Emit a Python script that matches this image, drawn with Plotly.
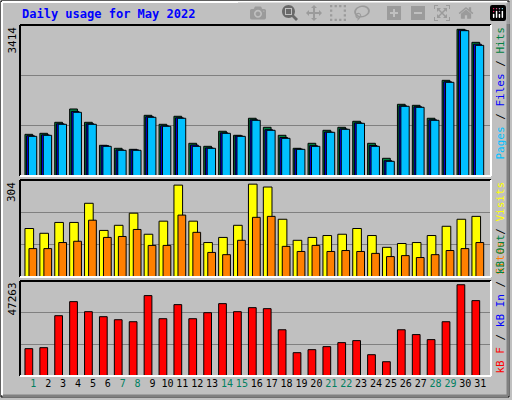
import plotly.graph_objects as go

W, H = 512, 400

days = list(range(1, 32))
hits = [942, 965, 1214, 1515, 1214, 694, 626, 603, 1372, 1169, 1350, 739, 671, 1011, 920, 1305,
        1101, 920, 626, 739, 1033, 1101, 1237, 739, 400, 1621, 1598, 1305, 2163, 3316, 3022]
files = [910, 930, 1180, 1460, 1180, 685, 590, 590, 1340, 1135, 1315, 700, 635, 975, 905, 1270,
         1045, 870, 610, 685, 995, 1065, 1200, 690, 345, 1585, 1565, 1270, 2130, 3300, 2980]
pages = [897, 920, 1169, 1440, 1169, 671, 581, 581, 1327, 1124, 1305, 671, 626, 965, 897, 1259,
         1033, 852, 603, 671, 988, 1056, 1191, 671, 332, 1576, 1553, 1259, 2118, 3286, 2954]
visits = [152, 137, 171, 171, 231, 146, 162, 200, 134, 175, 288, 175, 108, 124, 162, 291,
          282, 181, 115, 124, 130, 134, 152, 130, 93, 105, 108, 130, 159, 181, 190]
sites = [89, 89, 108, 112, 178, 124, 127, 149, 99, 99, 194, 140, 77, 70, 115, 187,
         190, 96, 80, 99, 80, 83, 80, 74, 64, 67, 61, 70, 83, 89, 108]
kbytes = [13600, 14100, 30000, 37000, 32000, 29500, 28000, 27000, 40000, 28500, 35500, 28500,
          31500, 36000, 32000, 34000, 33500, 23000, 11600, 13100, 14600, 16600, 17600, 10600,
          7100, 23000, 20600, 18100, 27000, 45400, 37500]
max_hits, max_visits, max_kb = 3414, 304, 47263
weekend = {1, 7, 8, 14, 15, 21, 22, 28, 29}

MONO = "DejaVu Sans Mono"
px = lambda x: x / W
py = lambda y: 1 - y / H

# panel pixel bounds (top, bottom)
PX0, PX1 = 20, 491
panels = [(25, 176), (180, 277), (281, 376)]

fig = go.Figure()

def bar(x, y, color, offset, width, axis):
    fig.add_trace(go.Bar(x=x, y=y, marker=dict(color=color, line=dict(color="black", width=1)),
                         offset=offset, width=width, xaxis="x", yaxis=axis, showlegend=False))

bar(days, hits, "#008040", -0.56, 0.52, "y")
bar(days, files, "#0000FF", -0.45, 0.52, "y")
bar(days, pages, "#00C0FF", -0.33, 0.56, "y")
bar(days, visits, "#FFFF00", -0.56, 0.58, "y2")
bar(days, sites, "#FF8000", -0.29, 0.52, "y2")
bar(days, kbytes, "#FF0000", -0.56, 0.52, "y3")

ticktext = [f"<span style='color:{'#008060' if d in weekend else 'black'}'>{d}</span>" for d in days]
fig.update_layout(
    width=W, height=H, margin=dict(l=0, r=0, t=0, b=0, autoexpand=False),
    paper_bgcolor="#C0C0C0", plot_bgcolor="#C0C0C0", barmode="overlay",
    font=dict(family=MONO, size=11, color="black"),
    xaxis=dict(domain=[px(PX0), px(PX1)], range=[0.107, 31.72], tickvals=days, ticktext=ticktext,
               tickangle=0, automargin=False, showgrid=False, zeroline=False, ticks="",
               ticklen=0, anchor="y3", tickfont=dict(size=10)),
)
for i, (axis, mx) in enumerate([("yaxis", max_hits), ("yaxis2", max_visits), ("yaxis3", max_kb)]):
    t, b = panels[i]
    fig.layout[axis] = dict(domain=[py(b), py(t)], range=[0, mx], tickvals=[mx / 3, 2 * mx / 3],
                            showticklabels=False, gridcolor="#808080", gridwidth=1,
                            zeroline=False, ticks="", anchor="x", automargin=False)
    # bevel frame: top/left black, bottom/right white
    fig.add_shape(type="line", xref="paper", yref="paper", x0=px(PX0), x1=px(PX1), y0=py(t), y1=py(t),
                  line=dict(color="black", width=2))
    fig.add_shape(type="line", xref="paper", yref="paper", x0=px(PX0), x1=px(PX0), y0=py(t), y1=py(b),
                  line=dict(color="black", width=2))
    fig.add_shape(type="line", xref="paper", yref="paper", x0=px(PX0), x1=px(PX1), y0=py(b), y1=py(b),
                  line=dict(color="white", width=2))
    fig.add_shape(type="line", xref="paper", yref="paper", x0=px(PX1), x1=px(PX1), y0=py(t), y1=py(b),
                  line=dict(color="white", width=2))
    fig.add_annotation(x=px(12), y=py(t), xref="paper", yref="paper", text=f"{mx}", textangle=-90,
                       showarrow=False, xanchor="center", yanchor="top", font=dict(size=11))

# outer border
fig.add_shape(type="rect", xref="paper", yref="paper", x0=px(1), x1=px(509), y0=py(1), y1=py(397),
              line=dict(color="black", width=1))
fig.add_shape(type="line", xref="paper", yref="paper", x0=px(508), x1=px(508), y0=py(3), y1=py(396),
              line=dict(color="#808080", width=3))
fig.add_shape(type="line", xref="paper", yref="paper", x0=px(3), x1=px(508), y0=py(396), y1=py(396),
              line=dict(color="#808080", width=3))
fig.add_shape(type="line", xref="paper", yref="paper", x0=px(2), x1=px(507), y0=py(2), y1=py(2),
              line=dict(color="white", width=2))
fig.add_shape(type="line", xref="paper", yref="paper", x0=px(2), x1=px(2), y0=py(2), y1=py(395),
              line=dict(color="white", width=2))

fig.add_annotation(x=px(20), y=py(14), xref="paper", yref="paper", text="<b>Daily usage for May 2022</b>",
                   showarrow=False, xanchor="left", yanchor="middle", font=dict(size=12, color="#0000FF"))

label_hits = ("<span style='color:#00C0FF'>Pages</span> / <span style='color:#0000FF'>Files</span>"
              " / <span style='color:#008040'>Hits</span>")
label_visits = "<span style='color:#FF8000'>Sites</span> / <span style='color:#FFFF00'>Visits</span>"
label_kb = ("<span style='color:#FF0000'>kB F</span> / <span style='color:#0000FF'>kB In</span>"
            " / <span style='color:#008040'>kB Out</span>")
fig.add_annotation(x=px(500), y=py(25), xref="paper", yref="paper", text=label_hits, textangle=-90,
                   showarrow=False, xanchor="center", yanchor="top", font=dict(size=11))
fig.add_annotation(x=px(500), y=py(180), xref="paper", yref="paper", text=label_visits,
                   textangle=-90, showarrow=False, xanchor="center", yanchor="top", font=dict(size=11))
fig.add_annotation(x=px(500), y=py(376), xref="paper", yref="paper", text=label_kb, textangle=-90,
                   showarrow=False, xanchor="center", yanchor="bottom", font=dict(size=11))

fig.write_html("out.html",
               post_script="document.body.style.margin='0';document.body.style.overflow='hidden';")
